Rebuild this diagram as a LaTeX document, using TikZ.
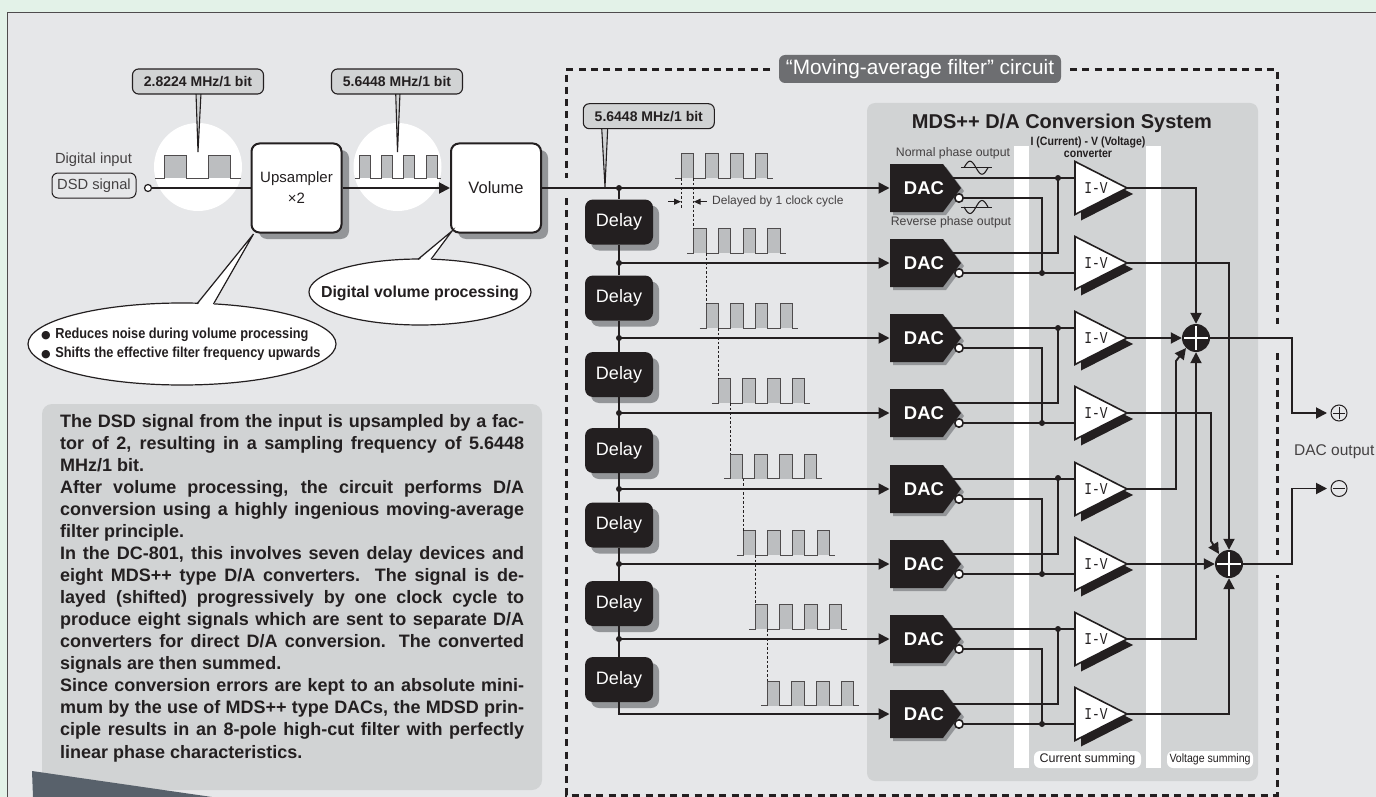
\documentclass[tikz,border=0pt]{standalone}
\usepackage{fontspec}
\setmainfont{Liberation Sans}
\newfontfamily\cnd[FakeStretch=0.88]{Liberation Sans}
\newfontfamily\dejavu{DejaVu Sans}
\newfontfamily\ivfont[FakeStretch=0.78]{Liberation Mono}
\usetikzlibrary{arrows.meta,shapes.geometric,calc}
\definecolor{pagegreen}{HTML}{E3F2E8}
\definecolor{panelgrey}{HTML}{E6E7E9}
\definecolor{inkdark}{HTML}{231F20}
\definecolor{shadowgrey}{HTML}{939598}
\definecolor{boxgrey}{HTML}{D1D3D4}
\definecolor{pulsegrey}{HTML}{BCBEC0}
\definecolor{pillgrey}{HTML}{6D6E71}
\definecolor{bubblegrey}{HTML}{D1D3D4}
\definecolor{darkslate}{HTML}{58616B}
\newcommand{\fs}[1]{\fontsize{#1}{#1}\selectfont}
\newcommand{\ptrain}[8]{%
  \foreach \k in {0,...,\numexpr#4-1\relax}{\fill[pulsegrey] ({#1+\k*#5},#2) rectangle ({#1+\k*#5+#6},#3);}
  \draw[pulseline] (#7,#3) foreach \k in {0,...,\numexpr#4-1\relax}{ -- ({#1+\k*#5},#3) -- ({#1+\k*#5},#2) -- ({#1+\k*#5+#6},#2) -- ({#1+\k*#5+#6},#3)} -- (#8,#3);
}
\newcommand{\jl}[2]{\node[bodyline] (bl#1) at (60,{427+22.07*(#1-1)}) {\makebox[464pt][s]{#2}};}
\newcommand{\nl}[2]{\node[bodyline] (bl#1) at (60,{427+22.07*(#1-1)}) {#2};}
\tikzset{
  sig/.style={draw=inkdark,line width=1.9pt},
  sigarrow/.style={sig,-{Triangle[length=11pt,width=11pt]}},
  pulseline/.style={draw=inkdark!80,line width=1pt},
  dotline/.style={draw=inkdark,line width=0.9pt,dash pattern=on 2.5pt off 2pt},
  frame/.style={draw=inkdark,line width=3pt,dash pattern=on 7pt off 5.3pt},
  bubble/.style={draw=inkdark,fill=bubblegrey,line width=1.1pt,rounded corners=6pt,minimum width=131pt,minimum height=25pt,inner sep=0pt,font=\fs{14}\bfseries,text=inkdark},
  whitebox/.style={draw=inkdark,fill=white,line width=2pt,rounded corners=8pt,minimum width=90pt,minimum height=89pt,inner sep=0pt,align=center,text=inkdark},
  delaybox/.style={fill=inkdark,rounded corners=8pt,minimum width=68pt,minimum height=45pt,inner sep=0pt,font=\fs{18},text=white},
  daclabel/.style={inner sep=0pt,font=\fs{18.5}\bfseries,text=white},
  ivlabel/.style={inner sep=0pt,font=\ivfont\fs{16.5},text=inkdark},
  smalllabel/.style={inner sep=0pt,font=\fs{12.3},text=inkdark!85},
  sumdot/.style={circle,fill=inkdark,minimum size=28pt,inner sep=0pt},
  jdot/.style={fill=inkdark},
  outsym/.style={circle,draw=inkdark,line width=1pt,minimum size=16pt,inner sep=0pt},
  pillwhite/.style={fill=white,rounded corners=6pt,inner sep=0pt,text=inkdark},
  callout/.style={draw=inkdark,line width=1.2pt,fill=white},
  bodyline/.style={anchor=base west,inner sep=0pt,font=\fs{18}\bfseries,text=inkdark},
  noteline/.style={anchor=west,inner sep=0pt,font=\cnd\fs{14.5}\bfseries,text=inkdark},
}
\begin{document}
\begin{tikzpicture}[x=1pt,y=-1pt]
\useasboundingbox (0,0) rectangle (1376,797);
\clip (0,0) rectangle (1376,797);
\fill[pagegreen] (0,0) rectangle (1376,797);
\draw[fill=panelgrey,draw=inkdark!80,line width=1pt] (7,13) rectangle (1390,810);
% text box and dark corner
\fill[boxgrey,rounded corners=10pt] (42,404) rectangle (542,790);
\fill[darkslate] (32,771) -- (212,797) -- (33,797) -- cycle;
\jl{1}{The DSD signal from the input is upsampled by a fac-}
\jl{2}{tor of 2, resulting in a sampling frequency of 5.6448}
\nl{3}{MHz/1 bit.}
\jl{4}{After volume processing, the circuit performs D/A}
\jl{5}{conversion using a highly ingenious moving-average}
\nl{6}{filter principle.}
\jl{7}{In the DC-801, this involves seven delay devices and}
\jl{8}{eight MDS++ type D/A converters. The signal is de-}
\jl{9}{layed (shifted) progressively by one clock cycle to}
\jl{10}{produce eight signals which are sent to separate D/A}
\jl{11}{converters for direct D/A conversion. The converted}
\nl{12}{signals are then summed.}
\jl{13}{Since conversion errors are kept to an absolute mini-}
\jl{14}{mum by the use of MDS++ type DACs, the MDSD prin-}
\jl{15}{ciple results in an 8-pole high-cut filter with perfectly}
\nl{16}{linear phase characteristics.}
% input section
\fill[white] (198,167) circle (44);
\fill[white] (397.5,167) circle (44);
\ptrain{164}{156}{178}{2}{44.5}{22.3}{155}{241}
\ptrain{359}{156}{178}{4}{22.4}{11}{355}{441}
\node[inner sep=0pt,font=\fs{14.7},text=inkdark!85] (diginput) at (93.5,160) {Digital input};
\node[draw=inkdark,line width=1pt,rounded corners=6pt,minimum width=84pt,minimum height=25pt,inner sep=0pt,font=\fs{14.7},text=inkdark!85] (dsd) at (94,185.5) {DSD signal};
\fill[shadowgrey,rounded corners=8pt] (259,150) rectangle (349,239);
\node[whitebox,font=\fs{15}] (upsampler) at (296.5,188) {Upsampler\\[6pt]×2};
\fill[shadowgrey,rounded corners=8pt] (458,150) rectangle (548,239);
\node[whitebox,font=\fs{16.5}] (volume) at (496,188) {Volume};
% bubbles
\path[draw=inkdark,fill=bubblegrey,line width=1.1pt] (196,93) -- (198,152) -- (201,93) -- cycle;
\node[bubble] (rateA) at (198,81.5) {2.8224 MHz/1 bit};
\path[draw=inkdark,fill=bubblegrey,line width=1.1pt] (395.7,93) -- (397.5,152) -- (400,93) -- cycle;
\node[bubble] (rateB) at (397,81.5) {5.6448 MHz/1 bit};
\path[draw=inkdark,fill=bubblegrey,line width=1.1pt] (601.7,128) -- (605,187) -- (607.7,128) -- cycle;
\node[bubble] (rateC) at (648.8,116.2) {5.6448 MHz/1 bit};
% callouts
\draw[callout] (182,344) ellipse [x radius=154pt,y radius=41pt];
\fill[white] (253.5,234) -- (197,305.5) -- (213.5,305.5) -- cycle;
\coordinate (tipA) at (253.5,234);
\draw[inkdark,line width=1.2pt] (197,303.8) -- (tipA) -- (213.5,304);
\node[noteline] (noteA) at (41,335) {{\dejavu\fs{11}●}\kern4.5pt Reduces noise during volume processing};
\node[noteline] (noteB) at (41,354) {{\dejavu\fs{11}●}\kern4.5pt Shifts the effective filter frequency upwards};
\draw[callout] (420,292) ellipse [x radius=111pt,y radius=33pt];
\fill[white] (452,231) -- (418,261) -- (431,261) -- cycle;
\coordinate (tipB) at (452,231);
\draw[inkdark,line width=1.2pt] (418,259.3) -- (tipB) -- (431,259.3);
\node[inner sep=0pt,font=\fs{15.9}\bfseries,text=inkdark] (noteC) at (420,293) {Digital volume processing};
% moving-average frame
\draw[frame] (770,69.5) -- (566,69.5) -- (566,178);
\draw[frame] (566,198) -- (566,795) -- (1277,795) -- (1277,575);
\draw[frame] (1070,69.5) -- (1277,69.5) -- (1277,324);
\draw[frame] (1277,353) -- (1277,555);
\node[fill=pillgrey,rounded corners=6pt,minimum width=282pt,minimum height=28pt,inner sep=0pt,text=white,font=\fs{20.8}] (pill) at (920,69) {“Moving-average filter” circuit};
% conversion system panel
\fill[boxgrey,rounded corners=8pt] (867,103) rectangle (1258,781);
\fill[white] (1014,146) rectangle (1029,768);
\fill[white] (1146,146) rectangle (1161,768);
\node[inner sep=0pt,font=\fs{20}\bfseries,text=inkdark] (systitle) at (1062,123) {MDS++ D/A Conversion System};
\node[smalllabel] (normal) at (953,153) {Normal phase output};
\node[smalllabel] (reverse) at (951,222) {Reverse phase output};
\node[inner sep=0pt,font=\cnd\fs{12}\bfseries,text=inkdark,align=center] (ivtitleA) at (1088,142) {I (Current) - V (Voltage)};
\node[inner sep=0pt,font=\cnd\fs{12}\bfseries,text=inkdark,align=center] (ivtitleB) at (1088,154) {converter};
\node[pillwhite,minimum width=107pt,minimum height=17pt,font=\fs{12.5}] (cursum) at (1087.5,759.5) {Current summing};
\node[pillwhite,minimum width=86pt,minimum height=17pt,font=\cnd\fs{12}] (volsum) at (1210,759.5) {Voltage summing};
% sine marks
\draw[inkdark,line width=1pt] (961,167.7) -- (992,167.7);
\draw[inkdark,line width=1.1pt] plot[domain=0:360,samples=37,smooth] ({964+\x/15},{167.7-6.5*sin(\x)});
\draw[inkdark,line width=1pt] (961,207) -- (992,207);
\draw[inkdark,line width=1.1pt] plot[domain=0:360,samples=37,smooth] ({964+\x/15},{207+6.5*sin(\x)});
% pulse trains
\ptrain{681.3}{153.3}{178}{4}{24.67}{12.4}{675}{773}
\ptrain{693.7}{228}{253}{4}{24.67}{12.4}{687.3}{785.7}
\ptrain{706}{303.7}{328}{4}{24.67}{12.4}{699.7}{798}
\ptrain{718.3}{378.7}{403}{4}{24.67}{12.4}{712}{810.3}
\ptrain{730.3}{454}{478.7}{4}{24.67}{12.4}{724}{822.3}
\ptrain{743}{530.7}{555}{4}{24.67}{12.4}{736.7}{835}
\ptrain{755.3}{604.3}{629}{4}{24.67}{12.4}{749}{847.3}
\ptrain{767.3}{681}{705.7}{4}{24.67}{12.4}{761}{859.3}
\draw[dotline] (681.3,178) -- (681.3,208);
\draw[dotline] (693.7,178) -- (693.7,228);
\draw[dotline] (706,253) -- (706,303.7);
\draw[dotline] (718.3,328) -- (718.3,378.7);
\draw[dotline] (730.3,403) -- (730.3,454);
\draw[dotline] (743,478.7) -- (743,530.7);
\draw[dotline] (755.3,555) -- (755.3,604.3);
\draw[dotline] (767.3,629) -- (767.3,681);
\coordinate (clkA) at (681,201.7);
\coordinate (clkB) at (693.7,201.7);
\draw[inkdark,line width=1pt,-{Triangle[length=7pt,width=6pt]}] (668,201.7) -- (clkA);
\draw[inkdark,line width=1pt,-{Triangle[length=7pt,width=6pt]}] (706.7,201.7) -- (clkB);
\node[anchor=west,inner sep=0pt,font=\fs{12},text=inkdark!85] (clklabel) at (712,201) {Delayed by 1 clock cycle};
% delays
\foreach \i/\y in {1/222,2/298,3/374.5,4/450.5,5/525,6/603.5,7/679.5}{
  \fill[shadowgrey,rounded corners=8pt] (591,\y-16.5) rectangle (659,\y+28.5);
  \node[delaybox] (d\i) at (619,\y) {Delay};
}
% DAC rows
\foreach \i/\c in {1/188,2/263,3/338,4/413,5/489,6/564,7/639,8/714}{
  \begin{scope}[shift={(0,\c)}]
    \coordinate (j\i) at (619,0);
    \coordinate (in\i) at (889.5,0);
    \coordinate (up\i) at (950,-10);
    \coordinate (lo\i) at (959,10);
    \coordinate (ivup\i) at (1075,-10);
    \coordinate (ivlo\i) at (1075,10);
    \coordinate (ivout\i) at (1127,0);
    \fill[shadowgrey] (893,-21) -- (946,-21) -- (964,3) -- (946,27) -- (893,27) -- cycle;
    \fill[inkdark] (890,-24) -- (943,-24) -- (961,0) -- (943,24) -- (890,24) -- cycle;
    \node[daclabel] (dac\i) at (924,0) {DAC};
    \fill[inkdark] (1081,-20.5) -- (1133,6) -- (1081,32.5) -- cycle;
    \draw[draw=inkdark,line width=1.6pt,fill=white,line join=miter] (1075,-26.5) -- (1127,0) -- (1075,26.5) -- cycle;
    \node[ivlabel] (iv\i) at (1096,0) {I-V};
  \end{scope}
}
% spine
\draw[sig] (volume.east) -- (j1);
\draw[sig] (j1) -- (d1.north);
\foreach \a/\b in {1/2,2/3,3/4,4/5,5/6,6/7}{
  \draw[sig] (d\a.south) -- (j\b);
  \draw[sig] (j\b) -- (d\b.north);
  \fill[jdot] (j\b) circle (3);
}
\fill[jdot] (j1) circle (3);
\foreach \i in {1,...,7}{\draw[sigarrow] (j\i) -- (in\i);}
\draw[sigarrow] (d7.south) |- (in8);
% input arrows
\coordinate (openin) at (148,188);
\draw[sig] (openin) -- (upsampler.west);
\draw[draw=inkdark,line width=1.2pt,fill=white] (openin) circle (3.5);
\draw[sigarrow] (upsampler.east) -- (volume.west);
% current summing
\foreach \a/\b/\yu/\yl in {1/2/178/273,3/4/328/423,5/6/478/574,7/8/629/724}{
  \draw[sig] (up\a) -- (ivup\a);
  \fill[jdot] (1058,\yu) circle (3);
  \draw[sig] (up\b) -| (1058,\yu);
  \draw[sig] (lo\a) -| (1042,\yl);
  \draw[sig] (lo\b) -- (ivlo\b);
  \fill[jdot] (1042,\yl) circle (3);
}
\foreach \i in {1,...,8}{\draw[draw=inkdark,line width=1.6pt,fill=white] (lo\i) circle (4.2);}
% voltage summing
\node[sumdot] (plusA) at (1196,338) {};
\node[sumdot] (plusB) at (1229,564) {};
\draw[white,line width=2.6pt] (1184,338) -- (1208,338) (1196,326) -- (1196,350);
\draw[white,line width=2.6pt] (1217,564) -- (1241,564) (1229,552) -- (1229,576);
\draw[sigarrow] (ivout1) -| (plusA.north);
\draw[sigarrow] (ivout3) -- (plusA.west);
\coordinate (bendA) at (1176,361);
\draw[sigarrow] (ivout5) -| (bendA) -- (plusA.south west);
\draw[sigarrow] (ivout7) -| (plusA.south);
\draw[sigarrow] (ivout2) -| (plusB.north);
\coordinate (bendB) at (1211,541);
\draw[sigarrow] (ivout4) -| (bendB) -- (plusB.north west);
\draw[sigarrow] (ivout6) -- (plusB.west);
\draw[sigarrow] (ivout8) -| (plusB.south);
% outputs
\node[outsym] (outP) at (1339,413) {};
\node[outsym] (outM) at (1339,488.5) {};
\draw[inkdark,line width=1pt] (1333,413) -- (1345,413) (1339,407) -- (1339,419);
\draw[inkdark,line width=1pt] (1333,488.5) -- (1345,488.5);
\coordinate (outPin) at (1327,413);
\coordinate (outMin) at (1327,488.5);
\coordinate (busP) at (1292,413);
\coordinate (busM) at (1292,488.5);
\draw[sigarrow] (plusA.east) -| (busP) -- (outPin);
\draw[sigarrow] (plusB.east) -| (busM) -- (outMin);
\node[anchor=west,inner sep=0pt,font=\fs{15.5},text=inkdark!85] (dacout) at (1294,451.5) {DAC output};
\end{tikzpicture}
\end{document}
